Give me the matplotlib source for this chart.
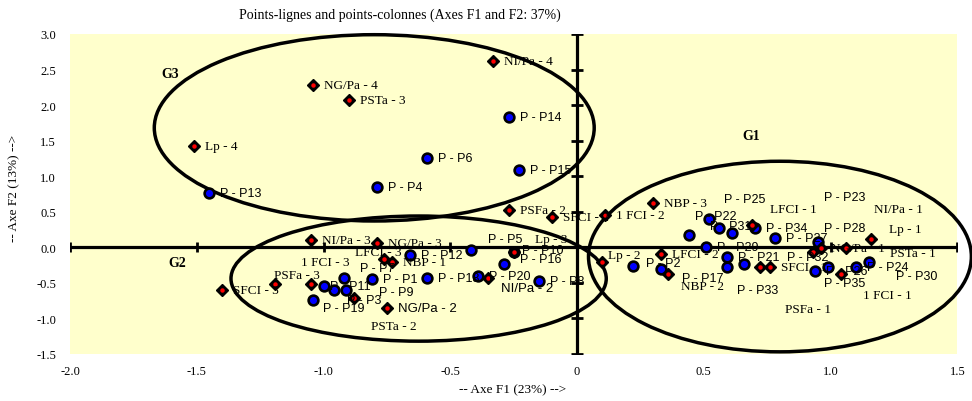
import matplotlib
matplotlib.use("Agg")
import matplotlib.pyplot as plt
from matplotlib.patches import Ellipse

# points-lignes (blue)
row_names = ["P - P13", "P - P4", "P - P6", "P - P14", "P - P15",
             "P - P12", "P - P5", "P - P10", "P - P16", "P - P18", "P - P20", "P - P8",
             "P - P7", "P - P1", "P - P11", "P - P3", "P - P9", "P - P19",
             "P - P2", "P - P17", "P - P22", "P - P25", "P - P31", "P - P29", "P - P21",
             "P - P33", "P - P34", "P - P32", "P - P28", "P - P23", "P - P26", "P - P24",
             "P - P30", "P - P35", "P - P27"]
row_x = [-1.45, -0.79, -0.59, -0.27, -0.23,
         -0.66, -0.42, -0.25, -0.29, -0.59, -0.39, -0.15,
         -0.92, -0.81, -1.00, -0.96, -0.91, -1.04,
         0.22, 0.33, 0.44, 0.52, 0.56, 0.51, 0.59,
         0.59, 0.70, 0.66, 0.95, 0.61, 0.94, 1.10,
         1.15, 0.99, 0.78]
row_y = [0.77, 0.85, 1.25, 1.83, 1.09,
         -0.11, -0.04, -0.06, -0.23, -0.43, -0.41, -0.48,
         -0.43, -0.45, -0.55, -0.60, -0.60, -0.74,
         -0.26, -0.30, 0.17, 0.40, 0.27, 0.00, -0.14,
         -0.27, 0.27, -0.24, 0.07, 0.20, -0.34, -0.27,
         -0.20, -0.27, 0.13]

# points-colonnes (red)
col_names = ["NI/Pa - 4", "NG/Pa - 4", "PSTa - 3", "Lp - 4", "PSFa - 2", "SFCI - 2",
             "1 FCI - 2", "NBP - 3", "LFCI - 1", "Lp - 1", "NG/Pa - 1", "NI/Pa - 1",
             "PSTa - 1", "PSFa - 1", "SFCI - 1", "1 FCI - 1", "Lp - 2", "LFCI - 2",
             "NBP - 2", "NI/Pa - 3", "NG/Pa - 3", "LFCI - 3", "NBP - 1", "1 FCI - 3",
             "PSFa - 3", "SFCI - 3", "NG/Pa - 2", "PSTa - 2", "NI/Pa - 2", "Lp - 3"]
col_x = [-0.33, -1.04, -0.90, -1.51, -0.27, -0.10,
         0.11, 0.30, 0.69, 1.16, 1.06, 0.96,
         0.93, 0.72, 0.76, 1.04, 0.10, 0.33,
         0.36, -1.05, -0.79, -0.76, -0.73, -1.05,
         -1.19, -1.40, -0.75, -0.88, -0.35, -0.25]
col_y = [2.62, 2.28, 2.07, 1.43, 0.52, 0.43,
         0.45, 0.62, 0.31, 0.11, -0.01, -0.01,
         -0.06, -0.28, -0.27, -0.38, -0.21, -0.09,
         -0.38, 0.10, 0.06, -0.17, -0.20, -0.52,
         -0.52, -0.60, -0.85, -0.71, -0.43, -0.07]

xticks = [-2.0, -1.5, -1.0, -0.5, 0, 0.5, 1.0, 1.5]
xticklabels = ["-2.0", "-1.5", "-1.0", "-0.5", "0", "0.5", "1.0", "1.5"]
yticks = [3.0, 2.5, 2.0, 1.5, 1.0, 0.5, 0.0, -0.5, -1.0, -1.5]

# label shifts in pixels (default is to the right of the point)
default_shift = (11, 0)
shift = {
    "P - P5": (17, 11), "P - P10": (8, 2), "P - P16": (16, 5), "P - P7": (16, 10),
    "P - P11": (6, 0), "P - P3": (13, -10), "P - P9": (33, -2), "P - P19": (10, -8),
    "P - P17": (21, -9), "P - P22": (6, 19), "P - P25": (15, 20), "P - P31": (-9, 2),
    "P - P33": (10, -23), "P - P32": (43, 7), "P - P28": (6, 14), "P - P23": (92, 36),
    "P - P30": (27, -14), "P - P35": (-4, -16), "P - P2": (13, 3),
    "LFCI - 1": (18, 16), "Lp - 1": (18, 10), "NG/Pa - 1": (-15, 0),
    "NI/Pa - 1": (53, 39), "PSTa - 1": (77, -1), "PSFa - 1": (25, -42),
    "1 FCI - 1": (22, -21), "Lp - 2": (6, 7), "NBP - 2": (13, -12),
    "LFCI - 3": (-29, 7), "1 FCI - 3": (-10, 22), "PSFa - 3": (-1, 9),
    "PSTa - 2": (17, -28), "NI/Pa - 2": (13, -10), "Lp - 3": (21, 13),
}

fig = plt.figure(figsize=(9.72, 4.02), dpi=100)
ax = fig.add_axes([0.072, 0.117, 0.913, 0.796])
ax.set_facecolor("#FFFFCC")
ax.set_xlim(-2.0, 1.5)
ax.set_ylim(-1.5, 3.0)
for s in ax.spines.values():
    s.set_visible(False)

serif = "Liberation Serif"
sans = "Liberation Sans"

ax.set_xticks(xticks)
ax.set_xticklabels(xticklabels, fontfamily=serif, fontsize=9)
ax.set_yticks(yticks)
ax.set_yticklabels(["%.1f" % v for v in yticks], fontfamily=serif, fontsize=9)
ax.tick_params(length=0)
ax.tick_params(axis="y", pad=10)
ax.tick_params(axis="x", pad=8)

# zero axes with small ticks
ax.plot([-2.0, 1.5], [0, 0], color="black", lw=2.3, zorder=2)
ax.plot([0, 0], [-1.5, 3.0], color="black", lw=2.3, zorder=2)
ax.plot(xticks, [0] * len(xticks), ls="none", marker="|", ms=7, mew=2, color="black", zorder=2)
ax.plot([0] * len(yticks), yticks, ls="none", marker="_", ms=8, mew=2, color="black", zorder=2)

# groups
ell = [(-0.80, 1.68, 1.735, 2.62), (-0.625, -0.44, 1.48, 1.76), (0.80, -0.13, 1.51, 2.68)]
for cx, cy, w, h in ell:
    ax.add_patch(Ellipse((cx, cy), w, h, fill=False, ec="black", lw=2.5, zorder=3, clip_on=False))
ax.text(-1.64, 2.45, "G3", fontfamily=serif, fontsize=10, fontweight="bold", va="center")
ax.text(-1.61, -0.22, "G2", fontfamily=serif, fontsize=10, fontweight="bold", va="center")
ax.text(0.65, 1.57, "G1", fontfamily=serif, fontsize=10, fontweight="bold", va="center")

# points
ax.plot(row_x, row_y, ls="none", marker="o", ms=7, mfc="#0000FF", mec="black", mew=1.9, zorder=4)
ax.plot(col_x, col_y, ls="none", marker="D", ms=6, mfc="black", mec="black", zorder=5)
ax.plot(col_x, col_y, ls="none", marker="o", ms=2.2, mfc="red", mec="red", zorder=6)

for name, x, y in zip(row_names, row_x, row_y):
    ax.annotate(name, (x, y), xytext=shift.get(name, default_shift), textcoords="offset pixels",
                fontfamily=sans, fontsize=9, va="center", ha="left", zorder=7)
for name, x, y in zip(col_names, col_x, col_y):
    fam = sans if name in ("NG/Pa - 2", "NI/Pa - 2") else serif
    ax.annotate(name, (x, y), xytext=shift.get(name, default_shift), textcoords="offset pixels",
                fontfamily=fam, fontsize=9.5, va="center", ha="left", zorder=7)

fig.text(400 / 972, 1 - 15 / 402, "Points-lignes and points-colonnes (Axes F1 and F2: 37%)",
         fontfamily=serif, fontsize=10, ha="center", va="center")
fig.text(513 / 972, 1 - 390 / 402, "-- Axe F1 (23%) -->", fontfamily=serif, fontsize=9.5,
         ha="center", va="center")
fig.text(14 / 972, 1 - 188 / 402, "-- Axe F2 (13%) -->", fontfamily=serif, fontsize=9.5,
         ha="center", va="center", rotation=90)

fig.savefig("out.png", dpi=100)
